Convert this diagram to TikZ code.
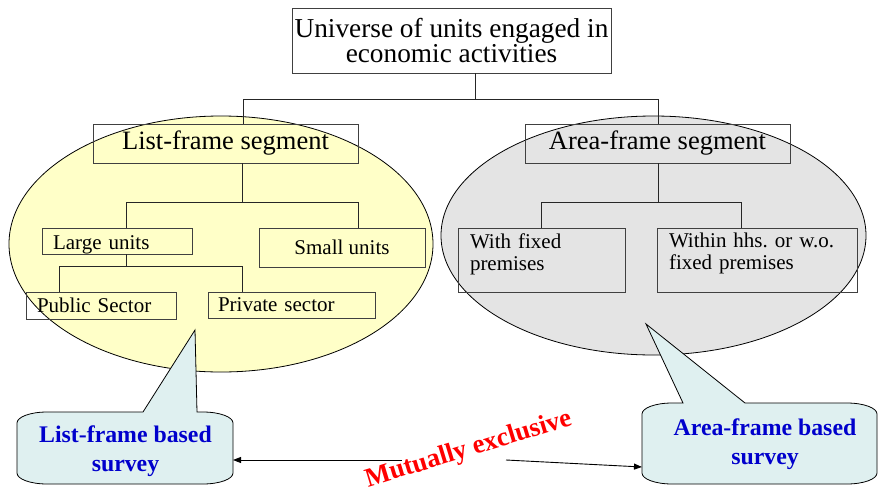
\documentclass[tikz,border=0pt]{standalone}
\usepackage{fontspec}
\setmainfont{Liberation Serif}
\usetikzlibrary{arrows.meta,shapes.geometric}
\definecolor{lyel}{HTML}{FFFFC8}
\definecolor{lgry}{HTML}{E4E4E4}
\definecolor{lcyan}{HTML}{DFF0F0}
\definecolor{tblue}{HTML}{0000CC}
\definecolor{bgray}{HTML}{404040}
\frenchspacing
\begin{document}
\begin{tikzpicture}[x=1pt,y=-1pt,
  box/.style={draw=bgray, line width=0.9pt, rectangle, inner sep=0pt, font=\fontsize{21}{22}\selectfont},
  bigbox/.style={box, font=\fontsize{26.5}{25}\selectfont},
  conn/.style={draw=black!85, line width=0.9pt},
  seg/.style={ellipse, draw=black, line width=0.8pt, inner sep=0pt},
  callout/.style={draw=black, line width=0.8pt, fill=lcyan},
  ctext/.style={text=tblue, align=center, font=\bfseries\fontsize{23.8}{28.5}\selectfont},
  arr/.style={draw=black, line width=0.9pt, -{Triangle[length=8pt,width=6pt]}}]
\useasboundingbox (0,0) rectangle (878,490);

% ellipses
\node[seg, fill=lyel, minimum width=424pt, minimum height=256pt] (lell) at (221,244) {};
\node[seg, fill=lgry, minimum width=425pt, minimum height=239pt] (rell) at (653.5,235.5) {};

% boxes
\node[bigbox, minimum width=319pt, minimum height=65pt, align=center, font=\fontsize{27.3}{25}\selectfont] (top) at (451.5,40.5) {Universe of units engaged in\\economic activities};
\node[bigbox, minimum width=265pt, minimum height=39pt] (list) at (225.5,143.5) {List-frame segment};
\node[bigbox, minimum width=265pt, minimum height=39pt] (area) at (657.5,143.5) {Area-frame segment};
\node[box, text width=128pt, inner xsep=11pt, minimum height=26pt, align=left, text height=16pt, text depth=0pt] (large) at (117,241) {Large units};
\node[box, minimum width=166pt, minimum height=39pt] (small) at (342,247.5) {Small units};
\node[box, text width=128pt, inner xsep=11pt, minimum height=27pt, align=left] (public) at (101,305.5) {Public Sector};
\node[box, text width=147pt, inner xsep=10pt, minimum height=26pt, align=left] (private) at (291.5,305) {Private sector};
\node[box, text width=143pt, inner xsep=12pt, minimum height=64pt, align=left, text depth=38.6pt] (fixed) at (541.5,260) {With fixed\\premises};
\node[box, text width=176pt, inner xsep=12pt, minimum height=64pt, align=left, text depth=38.6pt] (within) at (757,260) {Within hhs. or w.o.\\fixed premises};

% tree connectors
\draw[conn] (top.south -| 475,0) -- (475,99);
\draw[conn] (list.north -| 243,0) -- (243,99) -- (658,99) -- (area.north -| 658,0);
\draw[conn] (list.south -| 242,0) -- (242,202);
\draw[conn] (large.north -| 126,0) -- (126,202) -- (358,202) -- (small.north -| 358,0);
\draw[conn] (large.south -| 126,0) -- (126,266);
\draw[conn] (public.north -| 59,0) -- (59,266) -- (242,266) -- (private.north -| 242,0);
\draw[conn] (area.south -| 658,0) -- (658,202);
\draw[conn] (fixed.north -| 541,0) -- (541,202) -- (741,202) -- (within.north -| 741,0);

% callouts
\draw[callout] (143,412) -- (195,330) -- (197,412) -- (203,412)
  .. controls (219.6,412) and (233,416.9) .. (233,423) -- (233,473)
  .. controls (233,479.1) and (219.6,484) .. (203,484) -- (47,484)
  .. controls (30.4,484) and (17,479.1) .. (17,473) -- (17,423)
  .. controls (17,416.9) and (30.4,412) .. (47,412) -- cycle;
\draw[callout] (683,403) -- (646,324) -- (745,403) -- (847,403)
  .. controls (863.6,403) and (877,407.9) .. (877,414) -- (877,473)
  .. controls (877,479.1) and (863.6,484) .. (847,484) -- (672,484)
  .. controls (655.4,484) and (642,479.1) .. (642,473) -- (642,414)
  .. controls (642,407.9) and (655.4,403) .. (672,403) -- cycle;
\node[ctext] (ltext) at (125.5,451) {List-frame based\\survey};
\node[ctext] (rtext) at (765,444) {Area-frame based\\survey};

% mutually exclusive
\node[rotate=17, anchor=base, text=red, inner sep=0pt, font=\bfseries\fontsize{26.7}{30}\selectfont] (mutex) at (470.5,456) {Mutually exclusive};
\coordinate (lcall) at (233,460);
\coordinate (rcall) at (642,467);
\coordinate (ms) at (402,460);
\coordinate (me) at (506,460);
\draw[arr] (ms) -- (lcall);
\draw[arr] (me) -- (rcall);
\end{tikzpicture}
\end{document}
